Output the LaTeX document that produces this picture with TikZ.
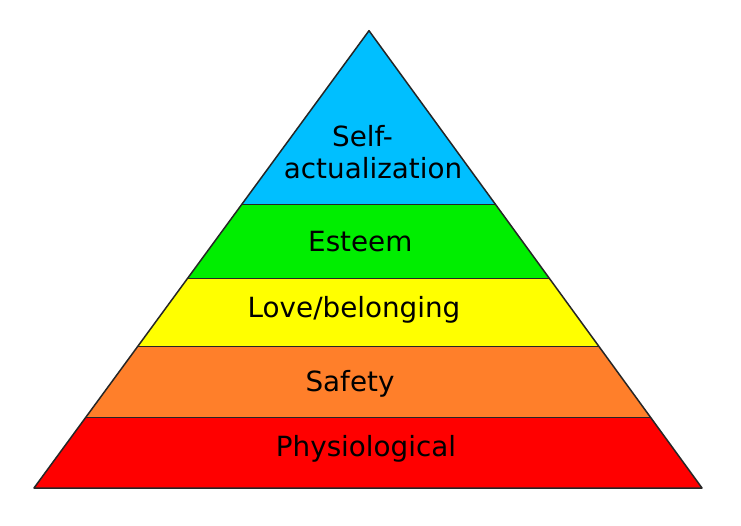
\documentclass[tikz,border=0pt]{standalone}
\usepackage{fontspec}
\setmainfont{DejaVu Sans}
\usetikzlibrary{calc}
\definecolor{cblue}{HTML}{00BFFF}
\definecolor{cgreen}{HTML}{00EE00}
\definecolor{cyellow}{HTML}{FFFF00}
\definecolor{corange}{HTML}{FF7F2A}
\definecolor{cred}{HTML}{FF0000}
\tikzset{
  layer/.style={draw=black!85, line width=1pt, line join=round},
  lbl/.style={anchor=base, inner sep=0pt, font=\fontsize{27.8}{33}\selectfont}
}
\begin{document}
\begin{tikzpicture}[x=1pt,y=-1pt]
\useasboundingbox[fill=white] (0,0) rectangle (741,525);
\coordinate (A) at (369,30.7);
\coordinate (BL) at (34,488);
\coordinate (BR) at (702,488);
\coordinate (L1) at ($(A)!0.3811!(BL)$);
\coordinate (R1) at ($(A)!0.3811!(BR)$);
\coordinate (L2) at ($(A)!0.5429!(BL)$);
\coordinate (R2) at ($(A)!0.5429!(BR)$);
\coordinate (L3) at ($(A)!0.6916!(BL)$);
\coordinate (R3) at ($(A)!0.6916!(BR)$);
\coordinate (L4) at ($(A)!0.8468!(BL)$);
\coordinate (R4) at ($(A)!0.8468!(BR)$);
\fill[cred] (L4) -- (R4) -- (BR) -- (BL) -- cycle;
\fill[corange] (L3) -- (R3) -- (R4) -- (L4) -- cycle;
\fill[cyellow] (L2) -- (R2) -- (R3) -- (L3) -- cycle;
\fill[cgreen] (L1) -- (R1) -- (R2) -- (L2) -- cycle;
\fill[cblue] (A) -- (R1) -- (L1) -- cycle;
\draw[layer] (L1) -- (R1);
\draw[layer] (L2) -- (R2);
\draw[layer] (L3) -- (R3);
\draw[layer] (L4) -- (R4);
\draw[layer, line width=1.5pt] (A) -- (BR) -- (BL) -- cycle;
\node[lbl] (self) at (362.5,146.7) {Self-};
\node[lbl] (act) at (373,178.3) {actualization};
\node[lbl] (est) at (360.3,251.7) {Esteem};
\node[lbl] (love) at (354,317.3) {Love/belonging};
\node[lbl] (saf) at (350,391.7) {Safety};
\node[lbl] (phys) at (366,456.7) {Physiological};
\end{tikzpicture}
\end{document}
